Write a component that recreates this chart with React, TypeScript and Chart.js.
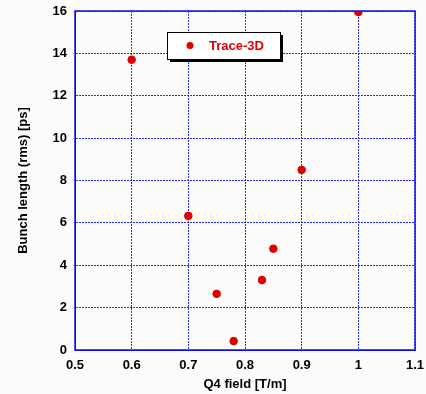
import React, { useEffect, useRef } from "react";
import { Chart, registerables } from "chart.js";

Chart.register(...registerables);

const q4Field = [0.6, 0.7, 0.75, 0.78, 0.83, 0.85, 0.9, 1.0];
const bunchLength = [13.7, 6.33, 2.65, 0.42, 3.3, 4.78, 8.5, 15.95];
const seriesName = "Trace-3D";
const xTitle = "Q4 field [T/m]";
const yTitle = "Bunch length (rms) [ps]";

const FONT = "'Liberation Sans', Arial, sans-serif";

const framePlugin = {
  id: "frame",
  beforeDraw(chart: any) {
    const { ctx, width, height } = chart;
    ctx.save();
    ctx.fillStyle = "#fcfcfa";
    ctx.fillRect(0, 0, width, height);
    ctx.restore();
  },
  afterDraw(chart: any) {
    const { ctx, chartArea } = chart;
    const { left, top, right, bottom } = chartArea;
    ctx.save();
    ctx.setLineDash([]);
    ctx.strokeStyle = "#1010f0";
    ctx.lineWidth = 1.5;
    ctx.strokeRect(left, top, right - left, bottom - top);
    // legend box
    const bx = left + 92;
    const by = top + 21;
    const bw = 113;
    const bh = 27;
    ctx.fillStyle = "#000";
    ctx.fillRect(bx + 3, by + 3, bw, bh);
    ctx.fillStyle = "#fff";
    ctx.fillRect(bx, by, bw, bh);
    ctx.strokeStyle = "#000";
    ctx.lineWidth = 1;
    ctx.strokeRect(bx + 0.5, by + 0.5, bw, bh);
    ctx.fillStyle = "#e00000";
    ctx.beginPath();
    ctx.arc(bx + 23, by + 13.5, 3.5, 0, Math.PI * 2);
    ctx.fill();
    ctx.font = `bold 13px ${FONT}`;
    ctx.textBaseline = "middle";
    ctx.fillText(seriesName, bx + 42, by + 14);
    ctx.restore();
  },
};

export default function App() {
  const ref = useRef<HTMLCanvasElement | null>(null);
  useEffect(() => {
    document.body.style.margin = "0";
    const chart = new Chart(ref.current as HTMLCanvasElement, {
      type: "scatter",
      data: {
        datasets: [
          {
            label: seriesName,
            data: q4Field.map((x, i) => ({ x, y: bunchLength[i] })),
            backgroundColor: "#e00000",
            borderColor: "#e00000",
            pointRadius: 3.8,
            pointHoverRadius: 3.8,
          },
        ],
      },
      options: {
        animation: false,
        responsive: false,
        layout: { padding: { left: 0, right: 11, top: 11, bottom: 0 } },
        plugins: { legend: { display: false }, tooltip: { enabled: false } },
        scales: {
          x: {
            type: "linear",
            min: 0.5,
            max: 1.1,
            afterFit: (s: any) => {
              s.height = 44;
              s.paddingLeft = 0;
              s.paddingRight = 0;
            },
            ticks: {
              stepSize: 0.1,
              padding: 8,
              color: "#000",
              font: { family: FONT, size: 13, weight: "bold" },
              callback: (v: any) => String(Math.round(Number(v) * 10) / 10),
            },
            grid: { color: "#2a2aff", lineWidth: 1, drawTicks: false },
            border: { display: true, color: "#0000ff", dash: [2, 1] },
            title: {
              display: true,
              text: xTitle,
              color: "#000",
              font: { family: FONT, size: 13, weight: "bold" },
              padding: { top: 0, bottom: 2 },
            },
          },
          y: {
            type: "linear",
            min: 0,
            max: 16,
            afterFit: (s: any) => {
              s.width = 75;
              s.paddingTop = 0;
              s.paddingBottom = 0;
            },
            ticks: {
              stepSize: 2,
              padding: 8,
              color: "#000",
              font: { family: FONT, size: 13, weight: "bold" },
            },
            grid: { color: "#2a2aff", lineWidth: 1, drawTicks: false },
            border: { display: true, color: "#0000ff", dash: [2, 1] },
            title: {
              display: true,
              text: yTitle,
              color: "#000",
              font: { family: FONT, size: 13, weight: "bold" },
              padding: { top: 16, bottom: 0 },
            },
          },
        },
      },
      plugins: [framePlugin],
    } as any);
    return () => chart.destroy();
  }, []);
  return <canvas ref={ref} width={426} height={394} style={{ display: "block" }} />;
}
